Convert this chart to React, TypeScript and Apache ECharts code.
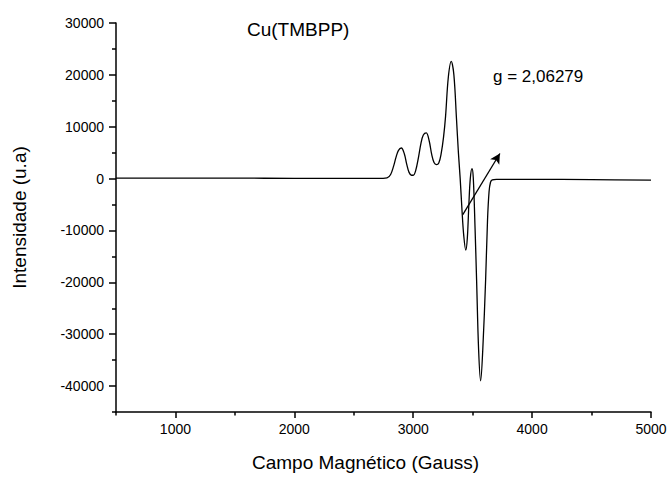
import React, { useEffect, useRef } from "react";
import * as echarts from "echarts";

// Magnetic field (Gauss) and EPR intensity (u.a.)
const fieldValues = [
  500, 1000, 1500, 2000, 2500, 2700, 2780, 2810, 2835, 2855, 2875, 2900, 2925, 2945,
  2965, 2985, 3000, 3020, 3045, 3065, 3085, 3110, 3135, 3155, 3175, 3195, 3215, 3235,
  3255, 3272, 3295, 3320, 3342, 3364, 3380, 3395, 3410, 3425, 3442, 3455, 3468, 3480,
  3494, 3505, 3520, 3533, 3550, 3567, 3585, 3609, 3625, 3638, 3650, 3665, 3700, 4000,
  4500, 5000,
];
const intensityValues = [
  100, 100, 80, 60, 50, 50, 150, 800, 2400, 4100, 5400, 5900, 4800, 2800,
  1200, 650, 650, 1500, 4200, 6800, 8400, 8800, 7200, 4700, 3100, 2700, 3000, 4800,
  8000, 12000, 19500, 22600, 20000, 11500, 5000, 0, -6000, -11000, -13800, -11500, -5000, 0,
  1900, 200, -9500, -19500, -33000, -39000, -33000, -19500, -8000, -2500, -700, -250, -150, -150,
  -200, -300,
];

const xMajorTicks = [1000, 2000, 3000, 4000, 5000];
const xMinorTicks = [500, 1500, 2500, 3500, 4500];
const yMajorTicks = [-40000, -30000, -20000, -10000, 0, 10000, 20000, 30000];
const yMinorTicks = [-45000, -35000, -25000, -15000, -5000, 5000, 15000, 25000];

// Arrow annotation endpoints (data coordinates)
const arrowStart = [3417, -6960];
const arrowEnd = [3729, 4840];

const FONT = "'Liberation Sans', Arial, sans-serif";
const plain = (v: number) => String(v);

export default function App() {
  const ref = useRef<HTMLDivElement>(null);

  useEffect(() => {
    if (!ref.current) return;
    const chart = echarts.init(ref.current, null, { renderer: "svg" });
    const data = fieldValues.map((f, i) => [f, intensityValues[i]]);
    const common = { min: 500, max: 5000, type: "value" as const };
    const yCommon = { min: -45000, max: 30000, type: "value" as const };
    chart.setOption({
      animation: false,
      backgroundColor: "#ffffff",
      textStyle: { fontFamily: FONT },
      grid: { left: 116, right: 21, top: 23, bottom: 63, containLabel: false },
      xAxis: [
        {
          ...common,
          position: "bottom",
          name: "Campo Magnético (Gauss)",
          nameLocation: "middle",
          nameGap: 41,
          nameTextStyle: { fontSize: 19, color: "#000", fontFamily: FONT, padding: [0, 36, 0, 0] },
          axisLine: { onZero: false, lineStyle: { color: "#000", width: 1.5 } },
          axisTick: { customValues: xMajorTicks, length: 6, inside: false, lineStyle: { color: "#000", width: 1.5 } },
          axisLabel: { customValues: xMajorTicks, formatter: plain, fontSize: 14, color: "#000", margin: 10, fontFamily: FONT },
          splitLine: { show: false },
        },
        {
          ...common,
          position: "bottom",
          axisLine: { show: false, onZero: false },
          axisTick: { customValues: xMinorTicks, length: 3.5, lineStyle: { color: "#000", width: 1.5 } },
          axisLabel: { show: false },
          splitLine: { show: false },
        },
      ],
      yAxis: [
        {
          ...yCommon,
          position: "left",
          name: "Intensidade (u.a)",
          nameLocation: "middle",
          nameGap: 87,
          nameTextStyle: { fontSize: 19, color: "#000", fontFamily: FONT },
          axisLine: { show: true, onZero: false, lineStyle: { color: "#000", width: 1.5 } },
          axisTick: { show: true, customValues: yMajorTicks, length: 7, lineStyle: { color: "#000", width: 1.5 } },
          axisLabel: { customValues: yMajorTicks, formatter: plain, fontSize: 14, color: "#000", margin: 12, fontFamily: FONT },
          splitLine: { show: false },
        },
        {
          ...yCommon,
          position: "left",
          axisLine: { show: false, onZero: false },
          axisTick: { show: true, customValues: yMinorTicks, length: 4, lineStyle: { color: "#000", width: 1.5 } },
          axisLabel: { show: false },
          splitLine: { show: false },
        },
      ],
      series: [
        {
          type: "line",
          xAxisIndex: 0,
          yAxisIndex: 0,
          data,
          smooth: 0.35,
          symbol: "none",
          lineStyle: { color: "#000", width: 1.3 },
          markLine: {
            silent: true,
            symbol: ["none", "arrow"],
            symbolSize: [8, 10],
            label: { show: false },
            lineStyle: { color: "#000", width: 1.3, type: "solid" },
            data: [[{ coord: arrowStart }, { coord: arrowEnd }]],
          },
        },
      ],
      graphic: [
        {
          type: "text",
          left: 247,
          top: 20,
          style: { text: "Cu(TMBPP)", fontSize: 19, fill: "#000", fontFamily: FONT },
        },
        {
          type: "text",
          left: 493,
          top: 68,
          style: { text: "g = 2,06279", fontSize: 17, fill: "#000", fontFamily: FONT },
        },
      ],
    });
    return () => chart.dispose();
  }, []);

  return (
    <div
      ref={ref}
      style={{ position: "absolute", left: 0, top: 0, width: 672, height: 477 }}
    />
  );
}
